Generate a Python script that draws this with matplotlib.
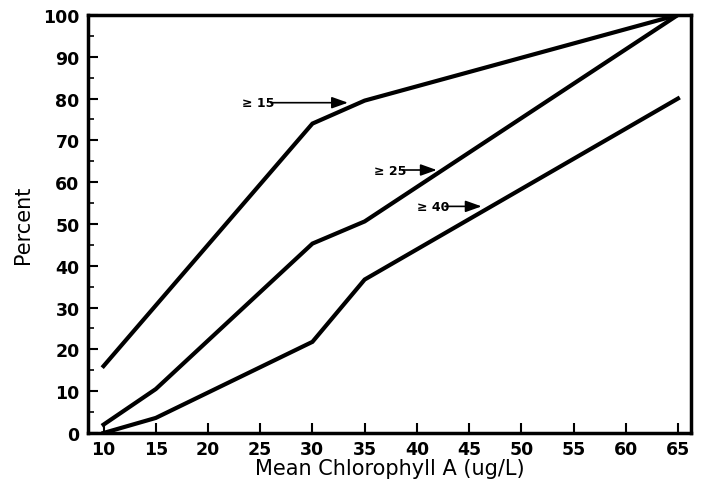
import matplotlib
matplotlib.use("Agg")
import matplotlib.pyplot as plt
from matplotlib.ticker import MultipleLocator

# Mean chlorophyll A (ug/L) and percent exceeding each threshold
chl15 = [10, 30, 35, 65]
ge15 = [16, 74, 79.5, 100]
chl = [10, 15, 30, 35, 65]
ge25 = [2, 10.5, 45.3, 50.6, 100]
ge40 = [0, 3.6, 21.8, 36.7, 80]

# curve labels: (text, text x, y, arrow tip x)
labels = [
    ("\u2265 15", 23.3, 79.0, 33.4),
    ("\u2265 25", 35.9, 62.9, 41.9),
    ("\u2265 40", 40.0, 54.2, 46.2),
]

fig = plt.figure(figsize=(7.03, 4.89), dpi=100)
ax = fig.add_axes([0.125, 0.1125, 0.858, 0.855])

ax.plot(chl15, ge15, color="black", lw=3, solid_joinstyle="miter")
ax.plot(chl, ge25, color="black", lw=3, solid_joinstyle="miter")
ax.plot(chl, ge40, color="black", lw=3, solid_joinstyle="miter")

for text, tx, ty, tip in labels:
    ax.annotate("", xy=(tip, ty), xytext=(tx + 2.7, ty),
                arrowprops=dict(arrowstyle="-|>,head_length=0.7,head_width=0.25",
                                color="black", lw=1.2,
                                mutation_scale=14, shrinkA=0, shrinkB=0))
    ax.text(tx, ty, text, ha="left", va="center", fontsize=9,
            fontweight="bold")

ax.set_xlim(8.5, 66.25)
ax.set_ylim(0, 100)
ax.yaxis.set_major_locator(MultipleLocator(10))
ax.yaxis.set_minor_locator(MultipleLocator(5))
ax.set_xticks(range(10, 66, 5))

ax.tick_params(which="major", direction="in", length=7, width=1.5,
               labelsize=12.5, pad=6)
ax.tick_params(axis="x", which="major", pad=5)
ax.tick_params(which="minor", direction="in", length=4, width=1.2)
for lbl in ax.get_xticklabels() + ax.get_yticklabels():
    lbl.set_fontweight("bold")
for sp in ax.spines.values():
    sp.set_linewidth(2.5)

ax.set_xlabel("Mean Chlorophyll A (ug/L)", fontsize=15, labelpad=0)
ax.set_ylabel("Percent", fontsize=15, labelpad=7)

fig.savefig("out.png", dpi=100)
